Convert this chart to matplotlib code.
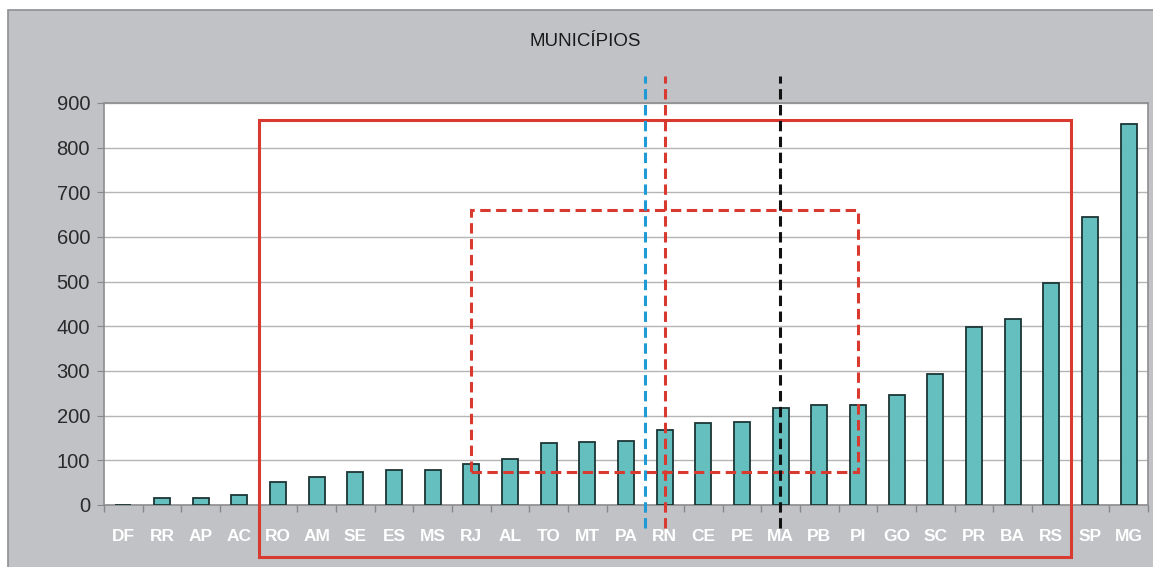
import matplotlib
matplotlib.use("Agg")
import matplotlib.pyplot as plt
from matplotlib.patches import Rectangle

plt.rcParams['font.family'] = ['Liberation Sans', 'DejaVu Sans']

states = ["DF", "RR", "AP", "AC", "RO", "AM", "SE", "ES", "MS", "RJ", "AL", "TO", "MT", "PA",
          "RN", "CE", "PE", "MA", "PB", "PI", "GO", "SC", "PR", "BA", "RS", "SP", "MG"]
municipios = [0, 15, 16, 22, 52, 62, 75, 78, 78, 92, 102, 139, 141, 143,
              167, 184, 185, 217, 223, 224, 246, 293, 399, 417, 496, 645, 853]

title = "MUNICÍPIOS"
yticks = [0, 100, 200, 300, 400, 500, 600, 700, 800, 900]

gray_bg = "#c1c2c6"
fig = plt.figure(figsize=(11.53, 5.67), dpi=100)
fig.patch.set_facecolor("white")
fig.patches.append(Rectangle((8 / 1153, -0.05), 1.1, (567 - 10) / 567 + 0.05,
                             transform=fig.transFigure, facecolor=gray_bg,
                             edgecolor="#8e8f93", linewidth=1.2, zorder=-10))

ax = fig.add_axes([104 / 1153, (567 - 505) / 567, (1148 - 104) / 1153, (505 - 103) / 567])
ax.set_zorder(1)
ax.set_facecolor("white")
x = list(range(len(states)))
ax.bar(x, municipios, width=0.42, color="#66bfbf", edgecolor="#1c3535", linewidth=1.3, zorder=3)

ax.set_xlim(-0.5, len(states) - 0.5)
ax.set_ylim(0, 900)
ax.set_yticks(yticks)
ax.yaxis.grid(True, color="#b5b5b5", linewidth=1, zorder=0)
ax.set_axisbelow(True)

ax.set_xticks(x)
ax.set_xticklabels(states, color="white", fontsize=12.5, fontweight="bold")
ax.tick_params(axis="x", length=0, pad=17)
ax.set_xticks([i - 0.5 for i in range(len(states) + 1)], minor=True)
ax.tick_params(axis="x", which="minor", length=5, color="#888888", width=1)
ax.tick_params(axis="y", length=5, color="#888888", labelsize=14.5, labelcolor="#2a2a2a", pad=5)

for s in ax.spines.values():
    s.set_color("#8e8e8e")
    s.set_linewidth(1.2)

dash = (0, (3.4, 1.8))
# Annotation rectangles
ax.add_patch(Rectangle((3.5, -116), 21, 862 + 116, fill=False, edgecolor="#d93a30",
                       linewidth=2.2, clip_on=False, zorder=5))
ax.add_patch(Rectangle((9, 74), 10, 660 - 74, fill=False, edgecolor="#d93a30",
                       linewidth=2.2, linestyle=dash, clip_on=False, zorder=5))

# Vertical dashed lines
ax.plot([13.48, 13.48], [-52, 960], color="#1e9ad6", linewidth=2.2,
        linestyle=dash, clip_on=False, zorder=6)
ax.plot([14.0, 14.0], [-52, 960], color="#d93a30", linewidth=2.2,
        linestyle=dash, clip_on=False, zorder=6)
ax.plot([16.97, 16.97], [-52, 960], color="#111111", linewidth=2.2,
        linestyle=dash, clip_on=False, zorder=6)

fig.text(585 / 1153, 1 - 42 / 567, title, ha="center", va="center", fontsize=13.5, color="#1a1a1a")

fig.savefig("out.png", dpi=100, facecolor=fig.get_facecolor())
